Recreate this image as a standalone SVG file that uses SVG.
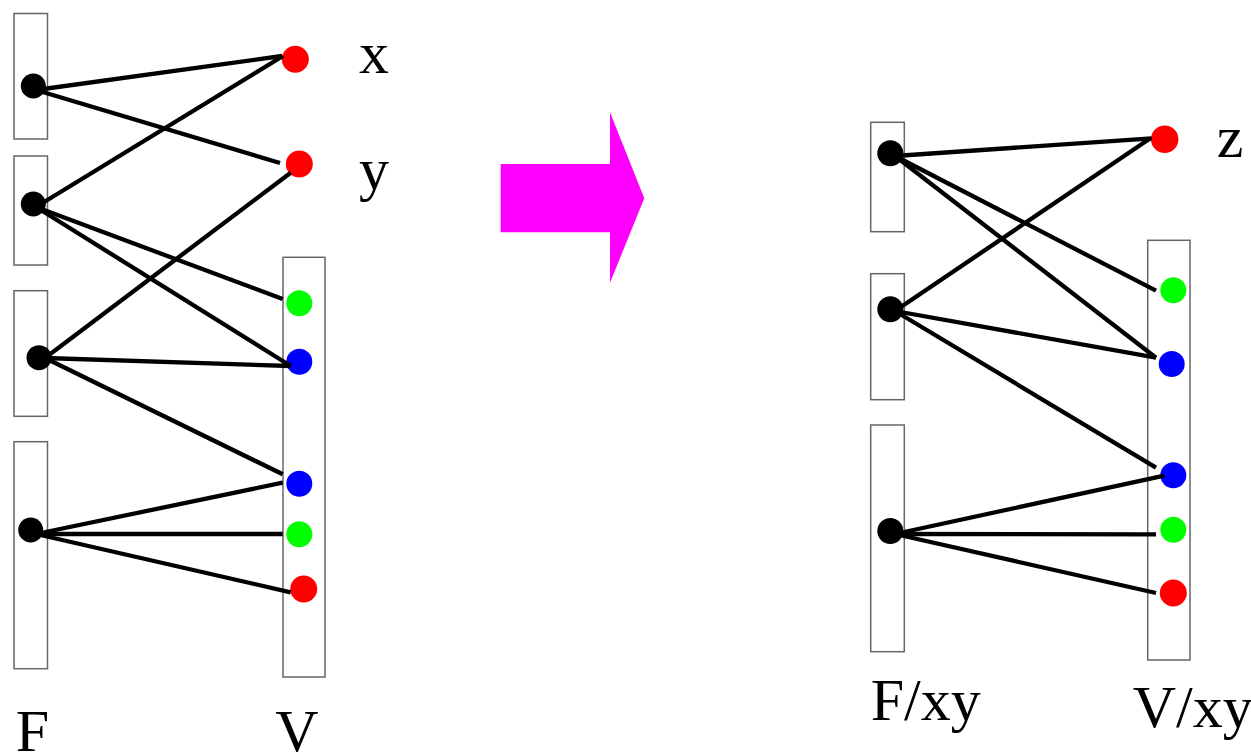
<svg xmlns="http://www.w3.org/2000/svg" width="1251" height="753" viewBox="0 0 1251 753">
<style>
.box{fill:#fff;stroke:#666;stroke-width:1.5}
.blk{fill:#000}
.red{fill:#ff0000}
.grn{fill:#00ff00}
.blu{fill:#0000ff}
.edge{stroke:#000;stroke-width:4.3;fill:none}
.lbl{font-family:"Liberation Serif","Times New Roman",serif;font-size:60px;fill:#000}
</style>
<rect width="1251" height="753" fill="#fff"/>
<!-- left boxes -->
<g id="F1"><rect class="box" x="14" y="13.5" width="33.5" height="125.5"/><circle class="blk" cx="33.3" cy="86" r="12.5"/></g>
<g id="F2"><rect class="box" x="14" y="156" width="33.5" height="109"/><circle class="blk" cx="33.3" cy="204" r="12.5"/></g>
<g id="F3"><rect class="box" x="14" y="290.7" width="33.5" height="125.6"/><circle class="blk" cx="39" cy="357.7" r="12.5"/></g>
<g id="F4"><rect class="box" x="14" y="441.7" width="33.5" height="227"/><circle class="blk" cx="30.7" cy="530" r="12.5"/></g>
<g id="V"><rect class="box" x="283" y="257.3" width="42" height="419.7"/>
<circle class="grn" cx="299.3" cy="303.3" r="13"/>
<circle class="blu" cx="299.3" cy="361.7" r="13"/>
<circle class="blu" cx="299.3" cy="483.7" r="13"/>
<circle class="grn" cx="299.3" cy="534.3" r="13"/>
<circle class="red" cx="303.7" cy="589" r="13.5"/>
</g>
<g id="x"><circle class="red" cx="295.3" cy="59.3" r="13.5"/><text class="lbl" x="359" y="72.7">x</text></g>
<g id="y"><circle class="red" cx="299.3" cy="164" r="13.5"/><text class="lbl" x="359" y="189">y</text></g>
<!-- right -->
<g id="R1"><rect class="box" x="870.7" y="122.3" width="33.6" height="109.4"/><circle class="blk" cx="890.3" cy="153.3" r="13"/></g>
<g id="R2"><rect class="box" x="870.7" y="273.7" width="33.6" height="126"/><circle class="blk" cx="890.3" cy="309.3" r="13"/></g>
<g id="R3"><rect class="box" x="870.7" y="425" width="33.6" height="226.7"/><circle class="blk" cx="890.3" cy="531" r="13"/></g>
<g id="VR"><rect class="box" x="1147.7" y="240.3" width="42.3" height="419.7"/>
<circle class="grn" cx="1173.3" cy="290.3" r="13"/>
<circle class="blu" cx="1171.7" cy="364" r="13"/>
<circle class="blu" cx="1173.3" cy="475.3" r="13"/>
<circle class="grn" cx="1173.3" cy="529.7" r="13"/>
<circle class="red" cx="1173.3" cy="593" r="13.5"/>
</g>
<g id="z"><circle class="red" cx="1164.7" cy="139.3" r="13.7"/><text class="lbl" x="1216.7" y="156.7">z</text></g>
<!-- arrow -->
<g id="arrow"><polygon fill="#ff00ff" points="500.7,164 610,164 610,112.3 644.3,198.3 610,282.7 610,232.3 500.7,232.3"/></g>
<!-- labels -->
<g id="labels">
<text class="lbl" x="15.7" y="751">F</text>
<text class="lbl" x="275.3" y="751">V</text>
<text class="lbl" x="870.7" y="720">F/xy</text>
<text class="lbl" x="1132.7" y="726.7">V/xy</text>
</g>
<g id="connectors" class="edge">
<line x1="36" y1="90" x2="282" y2="56"/>
<line x1="36" y1="90" x2="280" y2="163"/>
<line x1="36" y1="207" x2="283" y2="56"/>
<line x1="36" y1="207" x2="282.7" y2="299"/>
<line x1="36" y1="207" x2="290.7" y2="366"/>
<line x1="45" y1="358" x2="290.7" y2="172.7"/>
<line x1="45" y1="358" x2="290.7" y2="366"/>
<line x1="45" y1="358" x2="282.7" y2="474.3"/>
<line x1="36" y1="534" x2="282.7" y2="482.7"/>
<line x1="36" y1="534" x2="282.7" y2="534"/>
<line x1="36" y1="534" x2="290.7" y2="592.3"/>
<line x1="895" y1="156" x2="1151.7" y2="138.3"/>
<line x1="895" y1="156" x2="1156" y2="290.7"/>
<line x1="895" y1="156" x2="1156" y2="357.7"/>
<line x1="895" y1="311" x2="1150" y2="138.5"/>
<line x1="895" y1="311" x2="1156" y2="357.7"/>
<line x1="895" y1="311" x2="1156" y2="467.7"/>
<line x1="895" y1="534" x2="1164.3" y2="475.7"/>
<line x1="895" y1="534" x2="1156" y2="534.3"/>
<line x1="895" y1="534" x2="1156" y2="593"/>
</g>
</svg>
